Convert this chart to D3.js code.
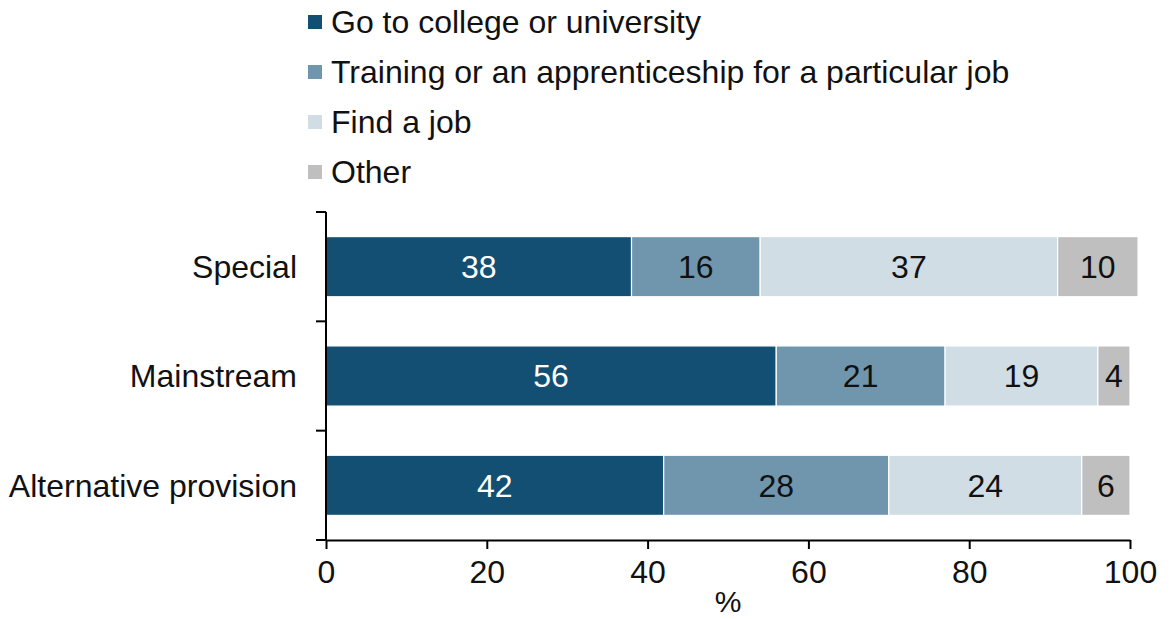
<!DOCTYPE html>
<html>
<head>
<meta charset="utf-8">
<script src="https://cdn.jsdelivr.net/npm/d3@7"></script>
<style>
  html, body { margin: 0; padding: 0; background: #fff; }
  svg { display: block; font-family: "Liberation Sans", Arial, sans-serif; }
</style>
</head>
<body>
<svg id="chart" width="1169" height="619"></svg>
<script>
// Destinations by school type (percent of pupils)
const categories = ["Special", "Mainstream", "Alternative provision"];
const seriesNames = [
  "Go to college or university",
  "Training or an apprenticeship for a particular job",
  "Find a job",
  "Other"
];
const college    = [38, 56, 42];
const training   = [16, 21, 28];
const findJob    = [37, 19, 24];
const other      = [10, 4, 6];
const xTicks     = [0, 20, 40, 60, 80, 100];
const xTitle     = "%";

const colors = ["#124f73", "#7096ae", "#d0dde5", "#bfbfbf"];
const labelColors = ["#ffffff", "#111111", "#111111", "#111111"];

const rows = categories.map((c, i) => ({
  category: c,
  values: [college[i], training[i], findJob[i], other[i]]
}));

const svg = d3.select("#chart");
const fontSize = 32;

const x = d3.scaleLinear().domain([0, 100]).range([326, 1130]);
const y = d3.scaleBand()
  .domain(categories)
  .range([212, 540])
  .paddingInner(0.45)
  .paddingOuter(0.225);

// Stacked segments
const stack = d3.stack().keys(d3.range(seriesNames.length)).value((d, k) => d.values[k]);
const layers = stack(rows);

const g = svg.append("g");
layers.forEach((layer, k) => {
  const lg = g.append("g");
  lg.selectAll("rect")
    .data(layer)
    .join("rect")
    .attr("x", d => x(d[0]))
    .attr("y", d => y(d.data.category))
    .attr("width", d => x(d[1]) - x(d[0]))
    .attr("height", y.bandwidth())
    .attr("fill", colors[k])
    .attr("stroke", "#ffffff")
    .attr("stroke-width", 1.2);
  lg.selectAll("text")
    .data(layer)
    .join("text")
    .attr("x", d => (x(d[0]) + x(d[1])) / 2)
    .attr("y", d => y(d.data.category) + y.bandwidth() / 2)
    .attr("dy", "0.35em")
    .attr("text-anchor", "middle")
    .attr("font-size", fontSize)
    .attr("fill", labelColors[k])
    .text(d => d.data.values[k]);
});

// Y axis: line with ticks at the band boundaries
const yRange = y.range();
const step = y.step();
const yBounds = d3.range(categories.length + 1).map(i => yRange[0] + i * step);
svg.append("line")
  .attr("x1", x(0)).attr("x2", x(0))
  .attr("y1", yRange[0]).attr("y2", yRange[1] + 1)
  .attr("stroke", "#000").attr("stroke-width", 2);
svg.selectAll(".ytick")
  .data(yBounds)
  .join("line")
  .attr("class", "ytick")
  .attr("x1", x(0) - 10).attr("x2", x(0))
  .attr("y1", d => d).attr("y2", d => d)
  .attr("stroke", "#000").attr("stroke-width", 2);
svg.selectAll(".ylabel")
  .data(categories)
  .join("text")
  .attr("class", "ylabel")
  .attr("x", 297)
  .attr("y", d => y(d) + y.bandwidth() / 2)
  .attr("dy", "0.35em")
  .attr("text-anchor", "end")
  .attr("font-size", fontSize)
  .attr("fill", "#111")
  .text(d => d);

// X axis
const xAxis = d3.axisBottom(x)
  .tickValues(xTicks)
  .tickSize(9)
  .tickPadding(11)
  .tickSizeOuter(0);
const xg = svg.append("g")
  .attr("transform", `translate(0,${yRange[1]})`)
  .call(xAxis);
xg.select(".domain").attr("stroke", "#000").attr("stroke-width", 2);
xg.selectAll(".tick line").attr("stroke", "#000").attr("stroke-width", 2);
xg.selectAll(".tick text")
  .attr("font-size", fontSize)
  .attr("font-family", "Liberation Sans, Arial, sans-serif")
  .attr("fill", "#111");

svg.append("text")
  .attr("x", (x(0) + x(100)) / 2)
  .attr("y", 612)
  .attr("text-anchor", "middle")
  .attr("font-size", 30)
  .attr("fill", "#111")
  .text(xTitle);

// Legend
const legend = svg.append("g");
seriesNames.forEach((name, k) => {
  const cy = 22 + k * 50;
  legend.append("rect")
    .attr("x", 308).attr("y", cy - 7)
    .attr("width", 14).attr("height", 14)
    .attr("fill", colors[k]);
  legend.append("text")
    .attr("x", 331).attr("y", cy)
    .attr("dy", "0.35em")
    .attr("font-size", fontSize)
    .attr("fill", "#111")
    .text(name);
});
</script>
</body>
</html>
